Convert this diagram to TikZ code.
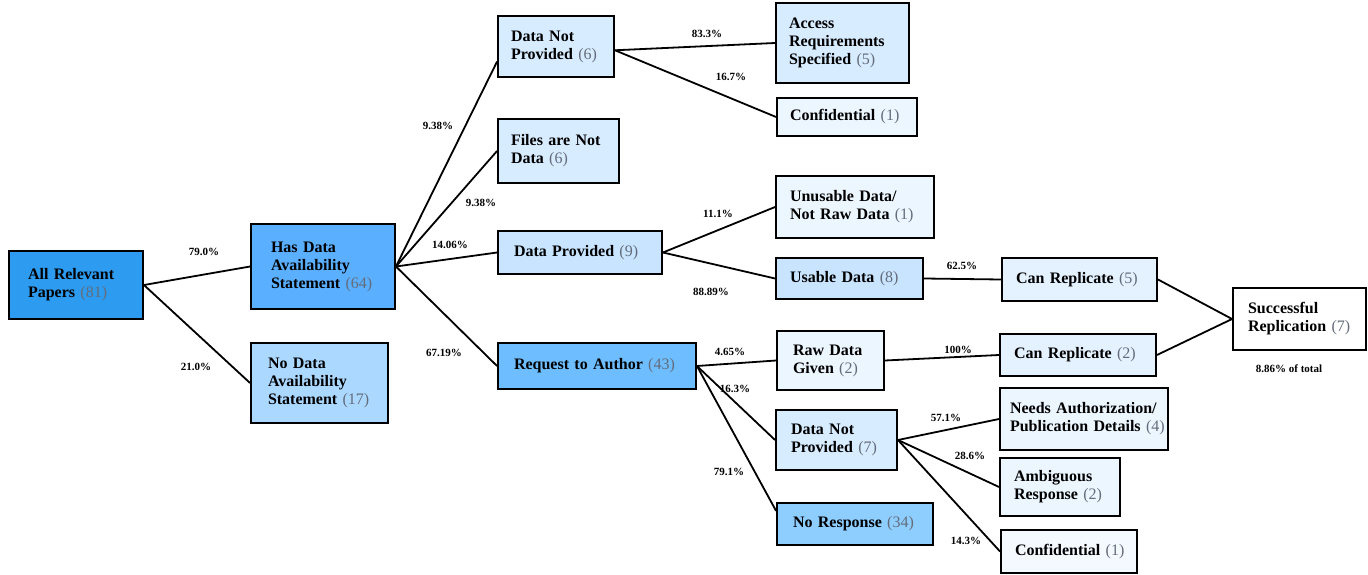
\documentclass[tikz,border=0pt]{standalone}
\usepackage{fontspec}
\setmainfont{Liberation Serif}
\usetikzlibrary{calc}
\definecolor{numgray}{RGB}{100,108,122}
\definecolor{cRoot}{RGB}{45,155,240}
\definecolor{cHas}{RGB}{90,176,255}
\definecolor{cNo}{RGB}{171,216,255}
\definecolor{cReq}{RGB}{110,190,255}
\definecolor{cNoResp}{RGB}{142,206,255}
\definecolor{cMid}{RGB}{200,228,255}
\definecolor{cLight}{RGB}{216,236,255}
\definecolor{cPale}{RGB}{236,246,255}
\definecolor{cRep}{RGB}{228,242,255}
\definecolor{cPaler}{RGB}{244,249,255}
\newcommand{\cnt}[1]{{\mdseries\color{numgray}(#1)}}
\newcommand{\bx}[8][15]{%
 \pgfmathsetmacro\bxw{#5-#3}\pgfmathsetmacro\bxh{#6-#4}\pgfmathsetmacro\bxtw{#5-#3-2*#1}%
 \pgfmathsetmacro\bxcx{(#3+#5)/2}\pgfmathsetmacro\bxcy{-(#4+#6)/2}%
 \node[box, fill=#7, inner xsep=#1pt, minimum width=\bxw pt, minimum height=\bxh pt, text width=\bxtw pt] (#2) at (\bxcx pt,\bxcy pt) {\begin{tabular}{@{}l@{}}#8\end{tabular}};}
\tikzset{
 box/.style={draw=black, line width=1.9pt, inner ysep=0pt, align=left, font=\fontsize{16}{18}\selectfont\bfseries},
 edge/.style={draw=black, line width=1.8pt},
 pct/.style={font=\fontsize{11}{12}\selectfont\bfseries, inner sep=0pt}
}
\begin{document}
\begin{tikzpicture}[x=1pt,y=1pt]
\useasboundingbox (0,0) rectangle (1368,-575);
\bx[19]{root}{9}{251}{143}{319}{cRoot}{All Relevant\\Papers \cnt{81}}
\bx[20]{has}{251}{224}{395}{309}{cHas}{Has Data\\Availability\\Statement \cnt{64}}
\bx[17]{nods}{251}{343}{388}{423}{cNo}{No Data\\Availability\\Statement \cnt{17}}
\bx[13]{dnpa}{498}{16}{614}{77}{cLight}{Data Not\\Provided \cnt{6}}
\bx[13]{files}{498}{119}{619}{183}{cLight}{Files are Not\\Data \cnt{6}}
\bx[16]{dp}{498}{231}{662}{274}{cMid}{Data Provided \cnt{9}}
\bx[16]{req}{498}{343}{696}{389}{cReq}{Request to Author \cnt{43}}
\bx[13]{access}{776}{3}{909}{83}{cLight}{Access\\Requirements\\Specified \cnt{5}}
\bx[13]{confa}{777}{98}{917}{136}{cPale}{Confidential \cnt{1}}
\bx[14]{unus}{776}{176}{934}{238}{cPale}{Unusable Data/\\Not Raw Data \cnt{1}}
\bx[14]{usable}{776}{258}{923}{299}{cMid}{Usable Data \cnt{8}}
\bx[14]{canra}{1002}{258}{1157}{301}{cRep}{Can Replicate \cnt{5}}
\bx[15]{succ}{1233}{288}{1366}{350}{white}{Successful\\Replication \cnt{7}}
\bx[16]{raw}{777}{331}{884}{390}{cPale}{Raw Data\\Given \cnt{2}}
\bx[14]{canrb}{1000}{334}{1156}{376}{cRep}{Can Replicate \cnt{2}}
\bx[15]{dnpb}{776}{410}{897}{470}{cLight}{Data Not\\Provided \cnt{7}}
\bx[10]{needs}{1000}{388}{1168}{450}{cPale}{Needs Authorization/\\Publication Details \cnt{4}}
\bx[14]{ambig}{1000}{458}{1120}{516}{cPale}{Ambiguous\\Response \cnt{2}}
\bx[16]{noresp}{777}{503}{933}{545}{cNoResp}{No Response \cnt{34}}
\bx[14]{confb}{1001}{530}{1137}{573}{cPaler}{Confidential \cnt{1}}
% edges
\draw[edge] (root.east) -- (has.west);
\draw[edge] (root.east) -- (nods.west);
\draw[edge] (has.east) -- ($(dnpa.north west)!0.74!(dnpa.south west)$);
\draw[edge] (has.east) -- (files.west);
\draw[edge] (has.east) -- (dp.west);
\draw[edge] (has.east) -- (req.west);
\draw[edge] ($(dnpa.north east)!0.56!(dnpa.south east)$) -- (access.west);
\draw[edge] ($(dnpa.north east)!0.56!(dnpa.south east)$) -- (confa.west);
\draw[edge] (dp.east) -- (unus.west);
\draw[edge] (dp.east) -- (usable.west);
\draw[edge] (usable.east) -- (canra.west);
\draw[edge] (canra.east) -- (succ.west);
\draw[edge] (canrb.east) -- (succ.west);
\draw[edge] (req.east) -- (raw.west);
\draw[edge] (req.east) -- (dnpb.west);
\draw[edge] (req.east) -- ($(noresp.north west)!0.2!(noresp.south west)$);
\draw[edge] (raw.east) -- (canrb.west);
\draw[edge] (dnpb.east) -- (needs.west);
\draw[edge] (dnpb.east) -- (ambig.west);
\draw[edge] (dnpb.east) -- (confb.west);
% labels
\node[pct] (l1) at (204,-252) {79.0\%};
\node[pct] (l2) at (196,-367) {21.0\%};
\node[pct] (l3) at (438,-126) {9.38\%};
\node[pct] (l4) at (481,-203) {9.38\%};
\node[pct] (l5) at (450,-245) {14.06\%};
\node[pct] (l6) at (444,-353) {67.19\%};
\node[pct] (l7) at (707,-34) {83.3\%};
\node[pct] (l8) at (731,-77) {16.7\%};
\node[pct] (l9) at (718,-214) {11.1\%};
\node[pct] (l10) at (711,-292) {88.89\%};
\node[pct] (l11) at (962,-266) {62.5\%};
\node[pct] (l12) at (730,-352) {4.65\%};
\node[pct] (l13) at (958,-350) {100\%};
\node[pct] (l14) at (735,-389) {16.3\%};
\node[pct] (l15) at (729,-472) {79.1\%};
\node[pct] (l16) at (946,-418) {57.1\%};
\node[pct] (l17) at (970,-456) {28.6\%};
\node[pct] (l18) at (966,-541) {14.3\%};
\node[pct] (l19) at (1289,-369) {8.86\% of total};
\end{tikzpicture}
\end{document}
